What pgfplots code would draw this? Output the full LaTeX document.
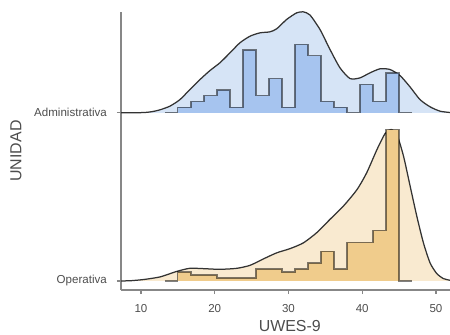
\documentclass[border=0pt]{standalone}
\usepackage{pgfplots}
\pgfplotsset{compat=1.18}
\usepackage{pgfplotstable}
\usepackage{fontspec}
\setmainfont{Liberation Sans}
\definecolor{admdens}{RGB}{214,228,246}
\definecolor{admhist}{RGB}{166,196,239}
\definecolor{opdens}{RGB}{249,234,208}
\definecolor{ophist}{RGB}{240,204,140}
\definecolor{densline}{RGB}{51,51,51}
\definecolor{axisgray}{RGB}{135,135,135}
\definecolor{txtgray}{RGB}{77,77,77}

% density of Administrativa: x, height above its baseline
\pgfplotstableread{
x h
7.29 0
9.0 0.0005
10.5 0.002
11.5 0.007
12.58 0.018
13.93 0.040
15.29 0.079
16.64 0.139
18.00 0.198
19.36 0.252
20.71 0.298
22.07 0.357
23.42 0.417
24.78 0.456
26.14 0.476
27.49 0.482
28.40 0.500
29.76 0.556
31.11 0.595
32.00 0.601
32.92 0.582
34.27 0.496
35.63 0.377
36.98 0.268
38.34 0.204
39.69 0.208
41.05 0.238
42.41 0.262
43.76 0.258
45.12 0.222
46.47 0.155
47.83 0.079
49.19 0.036
50.54 0.010
51.90 0.002
52.5 0
}\admdensity

% density of Operativa
\pgfplotstableread{
x h
7.29 0
8.5 0.001
10.3 0.008
12.6 0.024
14.8 0.056
16.6 0.075
18.5 0.073
20.7 0.069
23.0 0.075
24.8 0.093
26.6 0.131
28.4 0.167
30.2 0.192
32.0 0.226
33.8 0.286
35.6 0.365
37.5 0.448
39.3 0.544
40.6 0.643
42.0 0.782
43.1 0.877
43.9 0.901
44.7 0.871
45.6 0.742
46.5 0.563
47.4 0.385
48.3 0.226
49.2 0.107
50.1 0.044
51.0 0.014
51.9 0.004
52.5 0
}\opdensity

% histogram counts (left bin edge, count)
\pgfplotstableread{
x adm op
13.235 0 0
15.000 1 3
16.765 2 2
18.529 3 2
20.294 4 1
22.059 1 1
23.824 11 1
25.588 3 4
27.353 6 4
29.118 1 3
30.882 12 4
32.647 10 6
34.412 2 10
36.176 1 4
37.941 0 13
39.706 5 13
41.471 2 17
43.235 7 51
45.000 0 0
46.765 0 0
}\hist

\begin{document}
\begin{tikzpicture}
\path[use as bounding box] (-121bp,-45bp) rectangle (329bp,290bp);
\begin{axis}[
  at={(0,0)}, anchor=south west,
  scale only axis, width=329bp, height=278bp,
  xmin=7.29, xmax=51.9, ymin=0.946, ymax=2.6,
  axis x line*=bottom, axis y line*=left,
  axis line style={draw=axisgray, line width=1.3bp, -},
  xtick={10,20,30,40,50},
  ytick={1,2}, yticklabels={Operativa,Administrativa},
  tick align=outside, major tick length=4bp,
  tick style={draw=axisgray, line width=1.2bp},
  /pgf/number format/assume math mode=true,
  ticklabel style={font=\fontsize{11.6}{13}\selectfont, text=txtgray},
  xticklabel style={anchor=north, inner sep=0pt, yshift=-10.5bp},
  yticklabel style={anchor=east, inner sep=0pt, xshift=-10bp},
  xlabel={UWES-9}, ylabel={UNIDAD},
  every axis x label/.style={at={(axis description cs:0.513,-0.1295)}, anchor=center, font=\fontsize{16}{18}\selectfont, text=txtgray},
  every axis y label/.style={at={(axis description cs:-0.319,0.5)}, anchor=center, rotate=90, font=\fontsize{16}{18}\selectfont, text=txtgray},
]
% Administrativa
\addplot[smooth, tension=0.4, draw=densline, line width=1.25bp, fill=admdens] table[x=x, y expr=2+\thisrow{h}] {\admdensity};
\addplot[const plot, draw=black, draw opacity=0.5, line width=1.25bp, fill=admhist] table[x=x, y expr=2+\thisrow{adm}*0.03393] {\hist};
% Operativa
\addplot[smooth, tension=0.4, draw=densline, line width=1.25bp, fill=opdens] table[x=x, y expr=1+\thisrow{h}] {\opdensity};
\addplot[const plot, draw=black, draw opacity=0.5, line width=1.25bp, fill=ophist] table[x=x, y expr=1+\thisrow{op}*0.01766] {\hist};
\end{axis}
\end{tikzpicture}
\end{document}
